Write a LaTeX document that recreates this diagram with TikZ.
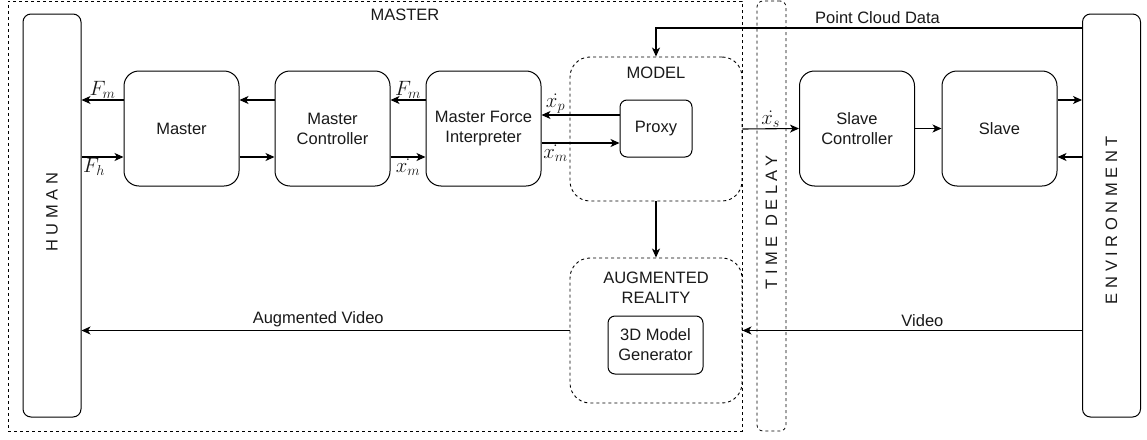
\documentclass[tikz,border=0pt]{standalone}
\usepackage{amsmath}
\usepackage{fontspec}
\setmainfont{Liberation Sans}
\usetikzlibrary{arrows.meta,positioning}

\newcommand{\spaced}[1]{{\addfontfeature{LetterSpace=28}#1}}

\begin{document}
\begin{tikzpicture}[x=1pt,y=-1pt,node distance=151pt,on grid,auto,
  >={Stealth[length=9pt,width=8pt,inset=2.5pt]},line width=1.1pt,
  every node/.style={font=\fontsize{16.5}{20}\selectfont,text=black!90},
  block/.style={draw,line width=1pt,rounded corners=15pt,minimum width=115pt,minimum height=115pt,align=center},
  side/.style={draw,line width=1pt,rounded corners=8pt,minimum width=58pt,minimum height=403pt},
  group/.style={draw,line width=0.9pt,dash pattern=on 3pt off 3pt,rounded corners=20pt,minimum width=172pt,minimum height=144pt},
  frame/.style={draw,line width=0.8pt,dash pattern=on 3pt off 3pt},
  sym/.style={font=\fontsize{21}{24}\selectfont,inner sep=1pt}]
\useasboundingbox (0,0) rectangle (1147,439);

% frames
\node[frame,minimum width=734pt,minimum height=430pt] (f_master) at (375,216) {};
\node (l_master) at (405,15) {MASTER};
\node[frame,rounded corners=6pt,minimum width=29pt,minimum height=430pt] (f_delay) at (771.5,216) {};
\node[rotate=90] (l_delay) at (771.5,222.5) {\spaced{TIME DELAY}};

% rows used by the paired arrows
\coordinate (r_pc) at (0,28);
\coordinate (r_up) at (0,100);
\coordinate (r_pu) at (0,115);
\coordinate (r_pd) at (0,143);
\coordinate (r_dn) at (0,157);

\node[side] (n_human) at (52,215.5) {};
\node[rotate=90] (l_human) at (52,212.5) {\spaced{HUMAN}};
\node[side] (n_env) at (1111.5,215.5) {};
\node[rotate=90] (l_env) at (1111.5,220) {\spaced{ENVIRONMENT}};

\node[block] (n_master) at (181.5,128.5) {Master};
\node[block] (n_ctrl) [right=of n_master] {Master\\Controller};
\node[block] (n_mfi) [right=of n_ctrl] {Master Force\\Interpreter};

\node[group] (n_model) at (656,129) {};
\node (l_model) at ([yshift=-16pt]n_model.north) {MODEL};
\node[draw,line width=1pt,rounded corners=7pt,minimum width=72pt,minimum height=57pt] (n_proxy) at (656,128.5) {Proxy};

\node[group,minimum height=145pt] (n_ar) at (656,330.5) {};
\node[align=center] (l_ar) at ([yshift=-30pt]n_ar.north) {AUGMENTED\\REALITY};
\node[draw,line width=1pt,rounded corners=7pt,minimum width=95pt,minimum height=58pt,align=center] (n_gen) at (655.5,345) {3D Model\\Generator};

\node[block] (n_sctrl) at (857,128.5) {Slave\\Controller};
\node[block] (n_slave) [right=142.5pt of n_sctrl] {Slave};

\path[->]
(n_master.west |- r_up) edge node[above,sym] {$F_m$} (n_human.east |- r_up)
(n_human.east |- r_dn) edge node[below,sym,pos=0.3] {$F_h$} (n_master.west |- r_dn)

(n_ctrl.west |- r_up) edge (n_master.east |- r_up)
(n_master.east |- r_dn) edge (n_ctrl.west |- r_dn)

(n_mfi.west |- r_up) edge node[above,sym] {$F_m$} (n_ctrl.east |- r_up)
(n_ctrl.east |- r_dn) edge node[below,sym] {$\dot{x_m}$} (n_mfi.west |- r_dn)

(n_proxy.west |- r_pu) edge node[above,sym,pos=0.82] {$\dot{x_p}$} (n_mfi.east |- r_pu)
(n_mfi.east |- r_pd) edge node[below,sym,pos=0.18] {$\dot{x_m}$} (n_proxy.west |- r_pd)

(n_model.east) edge node[above,sym] {$\dot{x_s}$} (n_sctrl.west)
(n_sctrl) edge (n_slave)
(n_slave.east |- r_up) edge (n_env.west |- r_up)
(n_env.west |- r_dn) edge (n_slave.east |- r_dn)

(n_model) edge (n_ar)
(n_env.west |- n_ar.east) edge node[above,pos=0.47] {Video} (n_ar.east)
(n_ar.west) edge node[above,pos=0.515] {Augmented Video} (n_human.east |- n_ar.west)
; %end path

\draw[->] (n_env.west |- r_pc) -| node[above,pos=0.24] {Point Cloud Data} (n_model.north);
\end{tikzpicture}
\end{document}
